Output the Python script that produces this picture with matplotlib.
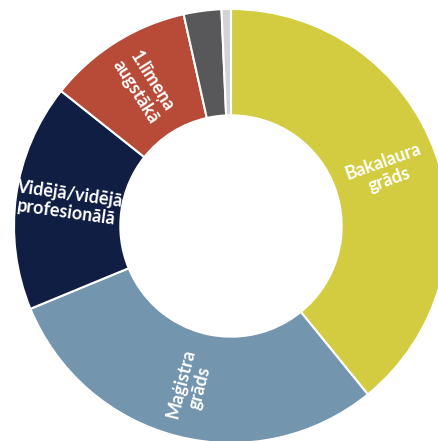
import numpy as np
import matplotlib
matplotlib.use('Agg')
import matplotlib.pyplot as plt

# share of respondents by education level (%)
categories = ['Bakalaura\ngrāds', 'Maģistra\ngrāds', 'Vidējā/vidējā\nprofesionālā',
              '1.līmeņa\naugstākā', '', '']
values = [39.1, 29.6, 16.9, 10.8, 2.8, 0.7]
colors = ['#D4CC40', '#7395AE', '#0F1E42', '#B84B38', '#58585A', '#D3D3D3']

fig = plt.figure(figsize=(4.39, 4.41), dpi=100)
ax = fig.add_axes([0, 0, 1, 1])

wedges, _ = ax.pie(values, colors=colors, startangle=90, counterclock=False,
                   radius=1.0, wedgeprops=dict(width=0.49, edgecolor='white', linewidth=1.5))

# labels sit radially in the middle of each ring segment
for w, lab in zip(wedges, categories):
    if not lab:
        continue
    mid = (w.theta1 + w.theta2) / 2.0
    r = 0.76
    x = r * np.cos(np.radians(mid))
    y = r * np.sin(np.radians(mid))
    rot = mid
    if rot > 90 or rot < -90:
        rot = rot - 180 if rot > 0 else rot + 180
    ax.text(x, y, lab, ha='center', va='center', rotation=rot, rotation_mode='anchor',
            color='white', fontsize=13, fontweight='bold', family=['Lato', 'DejaVu Sans'],
            linespacing=1.15)

ax.set_aspect('auto')
ax.set_xlim(-231 / 217, (439 - 231) / 217)
ax.set_ylim(-215 / 217, 226 / 217)
ax.axis('off')

fig.savefig('out.png', dpi=100)
